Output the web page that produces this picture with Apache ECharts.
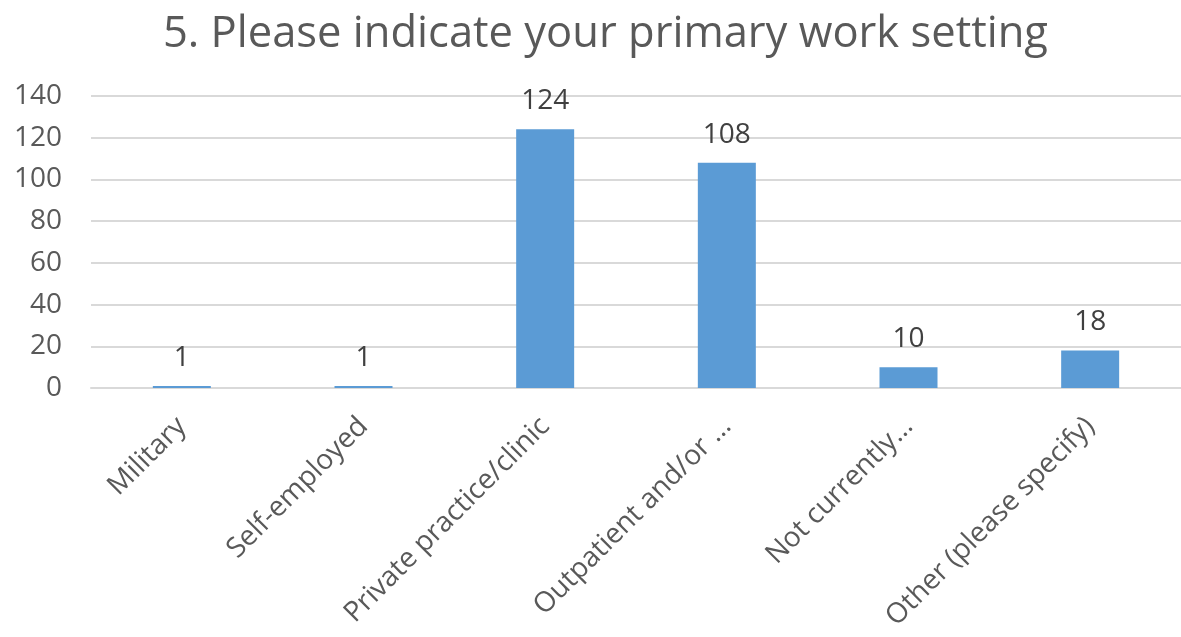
<!DOCTYPE html>
<html>
<head>
<meta charset="utf-8">
<script src="https://cdn.jsdelivr.net/npm/echarts@6/dist/echarts.min.js"></script>
<style>
  html, body { margin: 0; padding: 0; background: #fff; }
  #chart { width: 1181px; height: 637px; }
</style>
</head>
<body>
<div id="chart"></div>
<script>
// Survey question 5: primary work setting
const categories = [
  'Military',
  'Self-employed',
  'Private practice/clinic',
  'Outpatient and/or …',
  'Not currently…',
  'Other (please specify)'
];
const counts = [1, 1, 124, 108, 10, 18];
const yTicks = { min: 0, max: 140, interval: 20 };

const chart = echarts.init(document.getElementById('chart'));
chart.setOption({
  backgroundColor: '#ffffff',
  animation: false,
  title: {
    text: '5. Please indicate your primary work setting',
    left: 158,
    top: 8,
    textStyle: {
      fontFamily: 'Open Sans',
      fontSize: 43.5,
      fontWeight: 'normal',
      color: '#595959'
    }
  },
  grid: {
    left: 91,
    width: 1100,
    top: 96,
    bottom: 249,
    containLabel: false
  },
  xAxis: {
    type: 'category',
    data: categories,
    axisLine: { lineStyle: { color: '#d9d9d9', width: 2 } },
    axisTick: { show: false },
    axisLabel: {
      rotate: 45,
      interval: 0,
      margin: 34,
      fontFamily: 'Open Sans',
      fontSize: 28,
      color: '#595959'
    }
  },
  yAxis: {
    type: 'value',
    min: yTicks.min,
    max: yTicks.max,
    interval: yTicks.interval,
    axisLine: { show: false },
    axisTick: { show: false },
    splitLine: { lineStyle: { color: '#d9d9d9', width: 2 } },
    axisLabel: {
      margin: 29,
      fontFamily: 'Open Sans',
      fontSize: 28,
      color: '#595959'
    }
  },
  series: [{
    type: 'bar',
    data: counts,
    barWidth: 58,
    itemStyle: { color: '#5b9bd5' },
    label: {
      show: true,
      position: 'top',
      distance: 14,
      fontFamily: 'Open Sans',
      fontSize: 28,
      color: '#404040'
    }
  }]
});
</script>
</body>
</html>
